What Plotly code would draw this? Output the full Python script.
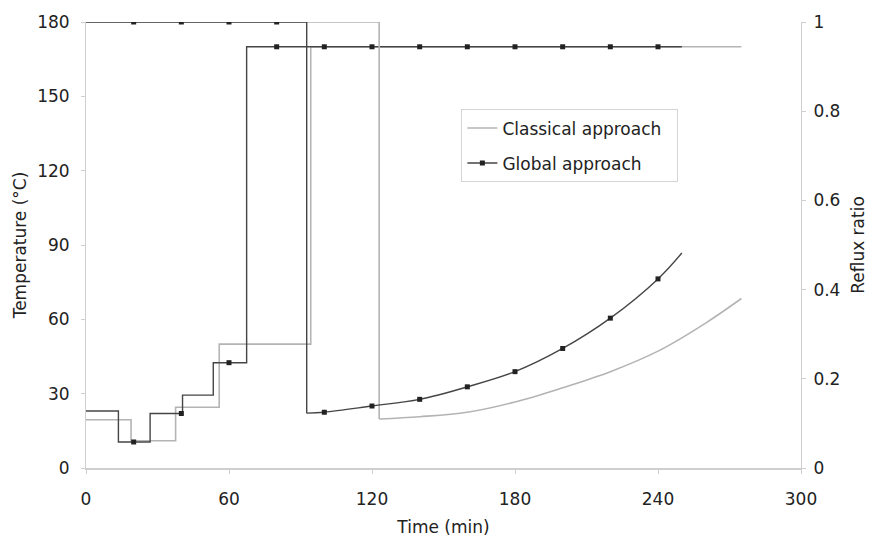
import plotly.graph_objs as go

# 溫度階梯曲線 (°C)
glob_temp_t = [0, 13.6, 26.9, 40.5, 53.4, 67.4, 250]
glob_temp_v = [23, 10.5, 22, 29.4, 42.5, 170, 170]
cls_temp_t = [0, 18.9, 37.6, 55.9, 94.3, 275]
cls_temp_v = [19.5, 11, 24.5, 50, 170, 170]

# 回流比 (全回流段 + 曲線段)
glob_rr_step_t = [0, 92.6, 92.6]
glob_rr_step_v = [1, 1, 0.123]
glob_rr_t = [92.6, 100, 120, 140, 160, 180, 200, 220, 240, 250]
glob_rr_v = [0.123, 0.125, 0.139, 0.154, 0.182, 0.216, 0.268, 0.336, 0.424, 0.482]
cls_rr_step_t = [0, 123, 123]
cls_rr_step_v = [1, 1, 0.11]
cls_rr_t = [123, 140, 160, 180, 200, 220, 240, 260, 275]
cls_rr_v = [0.11, 0.115, 0.125, 0.148, 0.18, 0.216, 0.262, 0.325, 0.38]

# 標記點
mark_t = [20, 40, 60, 80, 100, 120, 140, 160, 180, 200, 220, 240]
mark_temp = [10.5, 22, 42.5, 170, 170, 170, 170, 170, 170, 170, 170, 170]
mark_rr = [1, 1, 1, 1, 0.125, 0.139, 0.154, 0.182, 0.216, 0.268, 0.336, 0.424]

light = '#b4b4b4'
dark = '#454545'
axis_col = '#cfcfcf'
fnt = 'DejaVu Sans'

traces = [
    go.Scatter(x=cls_temp_t, y=cls_temp_v, mode='lines', line=dict(color=light, width=1.6, shape='hv'), showlegend=False),
    go.Scatter(x=cls_rr_step_t, y=cls_rr_step_v, yaxis='y2', mode='lines', line=dict(color=light, width=1.6), showlegend=False),
    go.Scatter(x=cls_rr_t, y=cls_rr_v, yaxis='y2', mode='lines', line=dict(color=light, width=1.6, shape='spline'), showlegend=False),
    go.Scatter(x=glob_temp_t, y=glob_temp_v, mode='lines', line=dict(color=dark, width=1.4, shape='hv'), showlegend=False),
    go.Scatter(x=glob_rr_step_t, y=glob_rr_step_v, yaxis='y2', mode='lines', line=dict(color=dark, width=1.4), showlegend=False),
    go.Scatter(x=glob_rr_t, y=glob_rr_v, yaxis='y2', mode='lines', line=dict(color=dark, width=1.4, shape='spline'), showlegend=False),
    go.Scatter(x=mark_t, y=mark_temp, mode='markers', marker=dict(color='#222', size=5, symbol='square'), showlegend=False),
    go.Scatter(x=mark_t, y=mark_rr, yaxis='y2', mode='markers', marker=dict(color='#222', size=5, symbol='square'), showlegend=False),
    # 圖例
    go.Scatter(x=[None], y=[None], mode='lines', line=dict(color=light, width=1.6),
               name='Classical approach\u00a0\u00a0', legendgroup='a'),
    go.Scatter(x=[None], y=[None], mode='lines+markers', line=dict(color=dark, width=1.4),
               marker=dict(color='#222', size=5, symbol='square'), name='Global approach', legendgroup='b'),
]

tickfont = dict(family=fnt, size=17, color='#222')
titlefont = dict(family=fnt, size=17, color='#222')

layout = go.Layout(
    width=880, height=536,
    margin=dict(l=78, r=87, t=14, b=76),
    plot_bgcolor='white', paper_bgcolor='white',
    xaxis=dict(range=[0, 300], tickvals=[0, 60, 120, 180, 240, 300], showgrid=False, zeroline=False,
               showline=True, linecolor=axis_col, linewidth=2, ticks='outside', ticklen=4, tickcolor=axis_col,
               ticklabelstandoff=11, automargin=False,
               tickfont=tickfont, title=dict(text='Time (min)', font=titlefont, standoff=13)),
    yaxis=dict(range=[0, 180], tickvals=[0, 30, 60, 90, 120, 150, 180], showgrid=False, zeroline=False,
               showline=True, linecolor=axis_col, linewidth=1, ticks='outside', ticklen=4, tickcolor=axis_col,
               ticklabelstandoff=8, automargin=False,
               tickfont=tickfont, title=dict(text='Temperature (°C)', font=titlefont, standoff=6)),
    yaxis2=dict(range=[0, 1], tickvals=[0, 0.2, 0.4, 0.6, 0.8, 1], ticktext=['0', '0.2', '0.4', '0.6', '0.8', '1'],
                overlaying='y', side='right', showgrid=False, zeroline=False,
                showline=True, linecolor=axis_col, linewidth=1, ticks='outside', ticklen=4, tickcolor=axis_col,
                ticklabelstandoff=4, automargin=False,
                tickfont=tickfont, title=dict(text='Reflux ratio', font=titlefont, standoff=12)),
    legend=dict(x=0.525, y=0.804, xanchor='left', yanchor='top', bordercolor='#d4d4d4', borderwidth=1,
                font=dict(family=fnt, size=17, color='#222'), bgcolor='white',
                traceorder='grouped', tracegroupgap=10, itemwidth=30),
)

fig = go.Figure(data=traces, layout=layout)
fig.write_html("out.html")
